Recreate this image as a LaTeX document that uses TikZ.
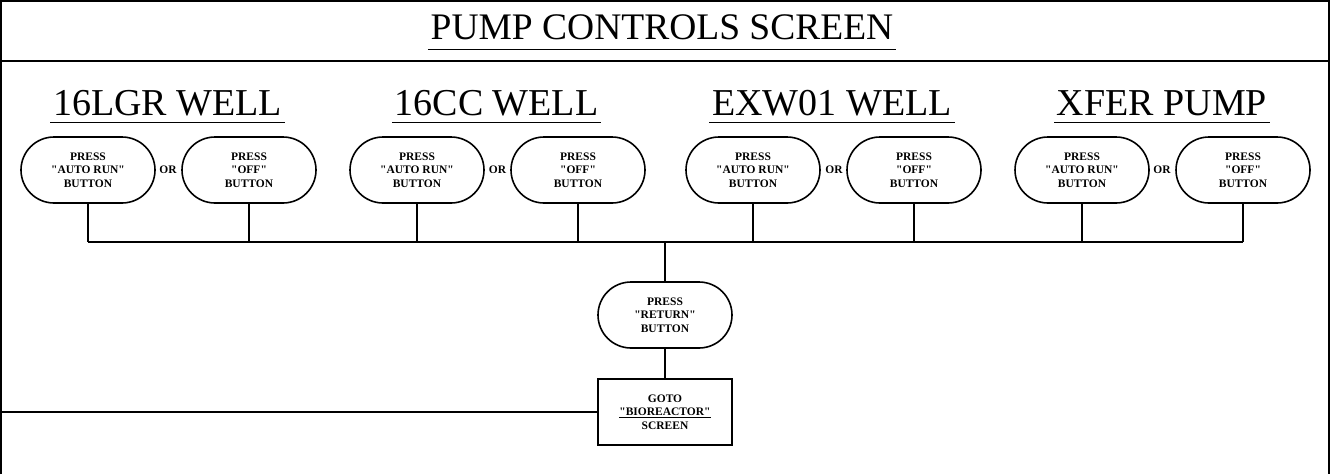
\documentclass[tikz,border=0pt]{standalone}
\usepackage{fontspec}
\setmainfont{Liberation Serif}[Ligatures=TeXOff]
\begin{document}
\begin{tikzpicture}[x=1pt,y=-1pt,line width=1.6pt,
  btn/.style={draw,rounded corners=33pt,minimum width=134pt,minimum height=66pt,inner sep=0pt,align=center,font=\bfseries\fontsize{11.5}{13.5}\selectfont},
  gobox/.style={draw,minimum width=134pt,minimum height=66pt,inner sep=0pt,align=center,font=\bfseries\fontsize{11.5}{13.5}\selectfont},
  head/.style={anchor=base,inner sep=0pt,font=\fontsize{38}{40}\selectfont},
  ttl/.style={anchor=base,inner sep=0pt,font=\fontsize{37.5}{40}\selectfont},
  orlbl/.style={inner sep=0pt,font=\bfseries\fontsize{11.5}{13}\selectfont},
  uline/.style={line width=1.6pt}]
\useasboundingbox (0,0) rectangle (1330,474);
% frame
\coordinate (fbl) at (1,474);
\coordinate (ftl) at (1,1);
\coordinate (ftr) at (1329,1);
\coordinate (fbr) at (1329,474);
\coordinate (sepl) at (1,61);
\coordinate (sepr) at (1329,61);
\draw (fbl) -- (ftl) -- (ftr) -- (fbr);
\draw (sepl) -- (sepr);
% title
\node[ttl] (title) at (662,39) {PUMP CONTROLS SCREEN};
\draw[uline] ([xshift=-2pt,yshift=-10.5pt]title.base west) -- ([xshift=2pt,yshift=-10.5pt]title.base east);
% headings
\node[head] (h1) at (167.5,115) {16LGR WELL};
\node[head] (h2) at (496.5,115) {16CC WELL};
\node[head] (h3) at (832,115) {EXW01 WELL};
\node[head] (h4) at (1162,115) {XFER PUMP};
\foreach \h in {h1,h2,h3,h4}{
  \draw[uline] ([xshift=-2pt,yshift=-7.5pt]\h.base west) -- ([xshift=2pt,yshift=-7.5pt]\h.base east);
}
% buttons
\node[btn] (a1) at (88,170) {PRESS\\"AUTO RUN"\\BUTTON};
\node[btn] (b1) at (249,170) {PRESS\\"OFF"\\BUTTON};
\node[btn] (a2) at (417,170) {PRESS\\"AUTO RUN"\\BUTTON};
\node[btn] (b2) at (578,170) {PRESS\\"OFF"\\BUTTON};
\node[btn] (a3) at (753,170) {PRESS\\"AUTO RUN"\\BUTTON};
\node[btn] (b3) at (914,170) {PRESS\\"OFF"\\BUTTON};
\node[btn] (a4) at (1082,170) {PRESS\\"AUTO RUN"\\BUTTON};
\node[btn] (b4) at (1243,170) {PRESS\\"OFF"\\BUTTON};
\node[orlbl] (o1) at (168,170) {OR};
\node[orlbl] (o2) at (497.5,170) {OR};
\node[orlbl] (o3) at (834,170) {OR};
\node[orlbl] (o4) at (1162,170) {OR};
% return and goto
\node[btn] (ret) at (665,315) {PRESS\\"RETURN"\\BUTTON};
\node[gobox] (go) at (665,412) {GOTO\\\underline{"BIOREACTOR"}\\SCREEN};
% bus
\coordinate (busy) at (0,242);
\draw (a1.south |- busy) -- (b4.south |- busy);
\foreach \n in {a1,b1,a2,b2,a3,b3,a4,b4}{
  \draw (\n.south) -- (\n.south |- busy);
}
\draw (ret.north |- busy) -- (ret.north);
\draw (ret.south) -- (go.north);
\coordinate (lft) at (0,412);
\draw (lft) -- (go.west);
\end{tikzpicture}
\end{document}
